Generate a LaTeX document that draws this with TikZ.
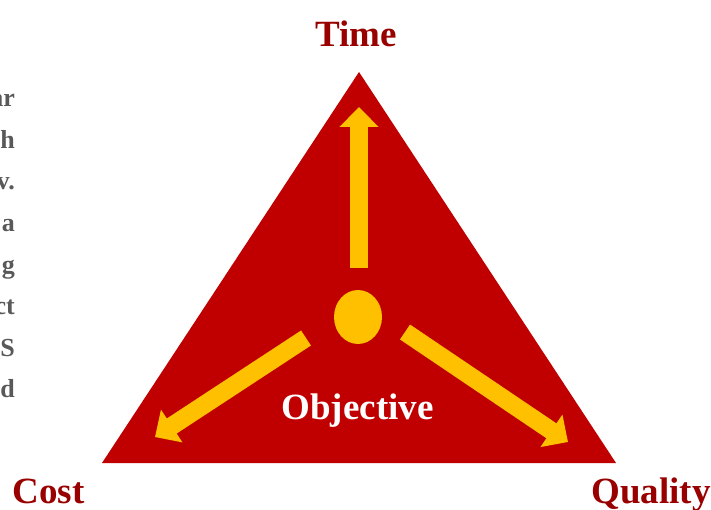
\documentclass[tikz,border=0pt]{standalone}
\usepackage{fontspec}
\setmainfont{Liberation Serif}
\usetikzlibrary{arrows.meta,shapes.geometric}

\definecolor{trired}{HTML}{C00000}
\definecolor{gold}{HTML}{FFC000}
\definecolor{darkred}{HTML}{990000}
\definecolor{textgrey}{HTML}{595959}

\begin{document}
\begin{tikzpicture}[x=1pt,y=-1pt,
   corner/.style={font=\bfseries\fontsize{37}{40}\selectfont,text=darkred,inner sep=0pt,anchor=base},
   spoke/.style={-{Triangle[length=20pt,width=38pt]},line width=18pt,draw=gold},
   side/.style={font=\bfseries\fontsize{26}{30}\selectfont,text=textgrey,inner sep=0pt,anchor=base east}]
 \useasboundingbox (0,0) rectangle (711,510);
 % the triangle
 \coordinate (T) at (359,72);
 \coordinate (C) at (102,463);
 \coordinate (Q) at (616,463);
 \fill[trired] (T) -- (Q) -- (C) -- cycle;
 % centre dot and the three arrows
 \node[ellipse,fill=gold,minimum width=48pt,minimum height=54pt,inner sep=0pt] (obj) at (358,317) {};
 \coordinate (tu) at (359,268);  \coordinate (hu) at (359,107);
 \coordinate (tl) at (306,338);  \coordinate (hl) at (155,437);
 \coordinate (tr) at (405,332);  \coordinate (hr) at (568,442);
 \draw[spoke] (tu) -- (hu);
 \draw[spoke] (tl) -- (hl);
 \draw[spoke] (tr) -- (hr);
 % labels
 \node[corner] (time) at (356,47) {Time};
 \node[corner] (cost) at (48.5,503) {Cost};
 \node[corner] (quality) at (651,503) {Quality};
 \node[corner,text=white] (objective) at (357.5,419) {Objective};
 % line ends of the text on the left
 \foreach \w [count=\i] in {ar,h,v.,a,g,ct,S,d}
   \node[side] (s\i) at (15,{107+41.5*(\i-1)}) {\w};
\end{tikzpicture}
\end{document}
